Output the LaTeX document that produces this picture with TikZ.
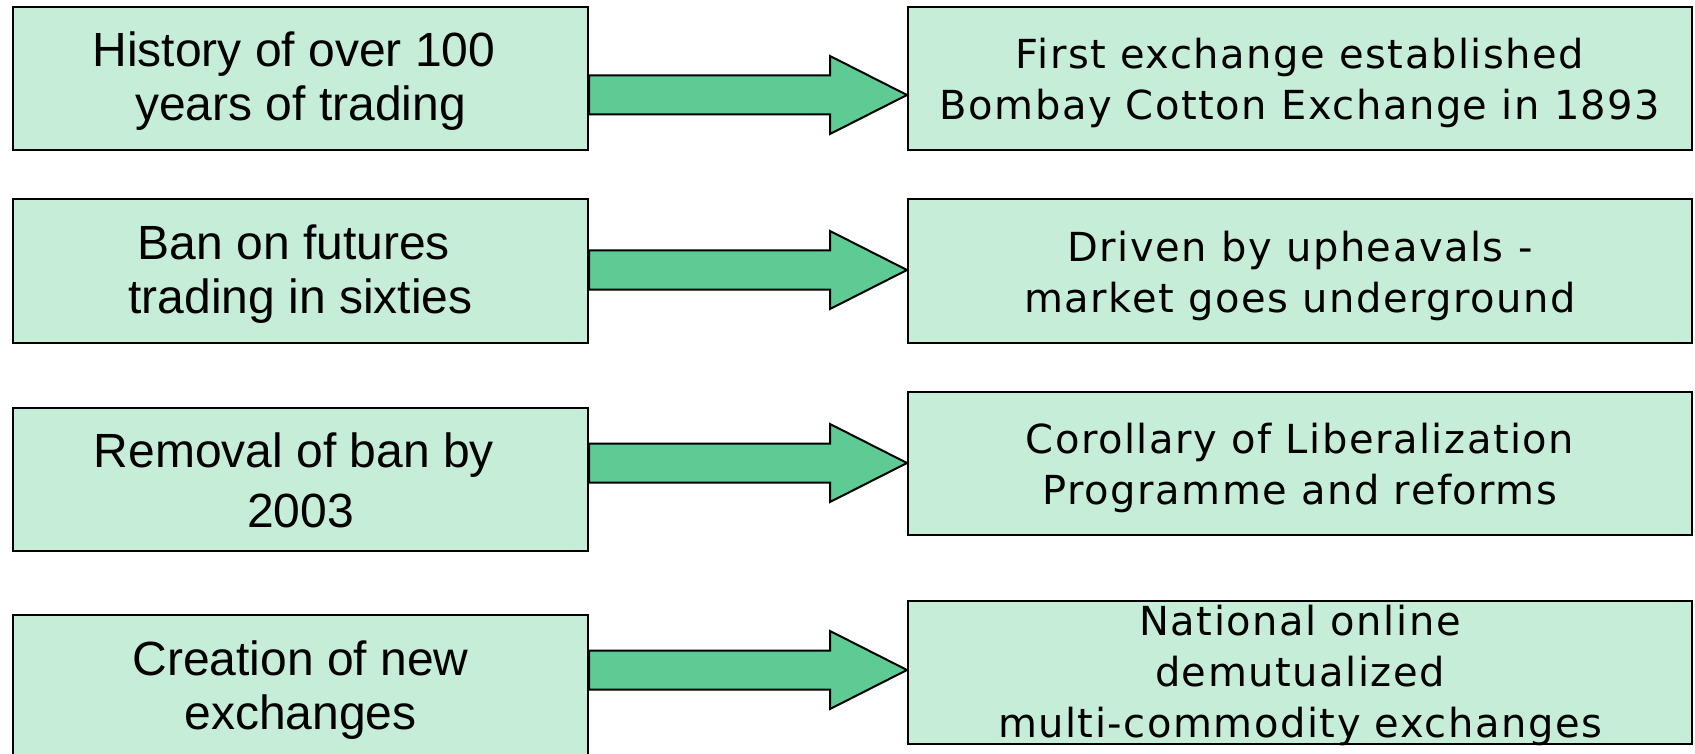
\documentclass[tikz,border=0pt]{standalone}
\usepackage{fontspec}
\setmainfont{Liberation Sans}
\newfontfamily\rightfont[LetterSpace=3.8]{DejaVu Sans}
\usetikzlibrary{calc}
\definecolor{boxfill}{RGB}{198,237,216}
\definecolor{arrowfill}{RGB}{94,203,149}
% invisible struts that fix the height of the first line and the depth of the last one
\newcommand{\topstrut}[1]{\rule{0pt}{#1pt}}
\newcommand{\botstrut}{\rule[-12pt]{0pt}{0pt}}
% a trailing word space kept at the end of a line
\newcommand{\trailsp}{\kern\fontdimen2\font}
\tikzset{
  causebox/.style={draw=black, line width=2pt, fill=boxfill, minimum width=575pt,
    minimum height=143pt, align=center, inner sep=0pt,
    font=\fontsize{48}{54}\selectfont},
  effectbox/.style={draw=black, line width=2pt, fill=boxfill, minimum width=784pt,
    minimum height=143pt, align=center, inner sep=0pt,
    font=\rightfont\fontsize{40}{51}\selectfont},
  blockarrow/.style={draw=black, line width=2pt, fill=arrowfill, line join=miter}
}
% block arrow from the east side of #1 to the west side of #2, tip at height #3
\newcommand{\flowarrow}[3]{%
  \coordinate (tip) at (0,#3);
  \path[blockarrow]
    ($(#1.east|-tip)+(0,-19.5)$) -- ($(#2.west|-tip)+(-77,-19.5)$)
    -- ($(#2.west|-tip)+(-77,-39)$) -- (#2.west|-tip)
    -- ($(#2.west|-tip)+(-77,39)$) -- ($(#2.west|-tip)+(-77,19.5)$)
    -- ($(#1.east|-tip)+(0,19.5)$) -- cycle;
}
\begin{document}
\begin{tikzpicture}[x=1pt,y=-1pt]
\useasboundingbox (0,0) rectangle (1695,754);
\clip (0,0) rectangle (1695,754);
\fill[white] (0,0) rectangle (1695,754);

\node[causebox] (h1) at (300.5,79) {\topstrut{42}History of over 100\trailsp\\years of trading\botstrut};
\node[causebox] (h2) at (300.5,271) {\topstrut{42}Ban on futures\trailsp\\trading in sixties\botstrut};
\node[causebox, font=\fontsize{48}{60}\selectfont] (h3) at (300.5,479.5) {\topstrut{47}Removal of ban by\trailsp\\2003\botstrut};
\node[causebox, minimum height=145pt] (h4) at (300.5,687.5) {\topstrut{42}Creation of new\\exchanges\botstrut};

\node[effectbox] (e1) at (1300,79) {\topstrut{43}First exchange established\\Bombay Cotton Exchange in 1893\botstrut};
\node[effectbox] (e2) at (1300,271) {\topstrut{43}Driven by upheavals -\\market goes underground\botstrut};
\node[effectbox] (e3) at (1300,463) {\topstrut{43}Corollary of Liberalization\\Programme and reforms\botstrut};
\node[effectbox] (e4) at (1300,672) {\topstrut{33}National online\\demutualized\\\smash{multi-commodity exchanges}\rule[-5pt]{0pt}{0pt}};

\flowarrow{h1}{e1}{95}
\flowarrow{h2}{e2}{270}
\flowarrow{h3}{e3}{463}
\flowarrow{h4}{e4}{670}
\end{tikzpicture}
\end{document}
